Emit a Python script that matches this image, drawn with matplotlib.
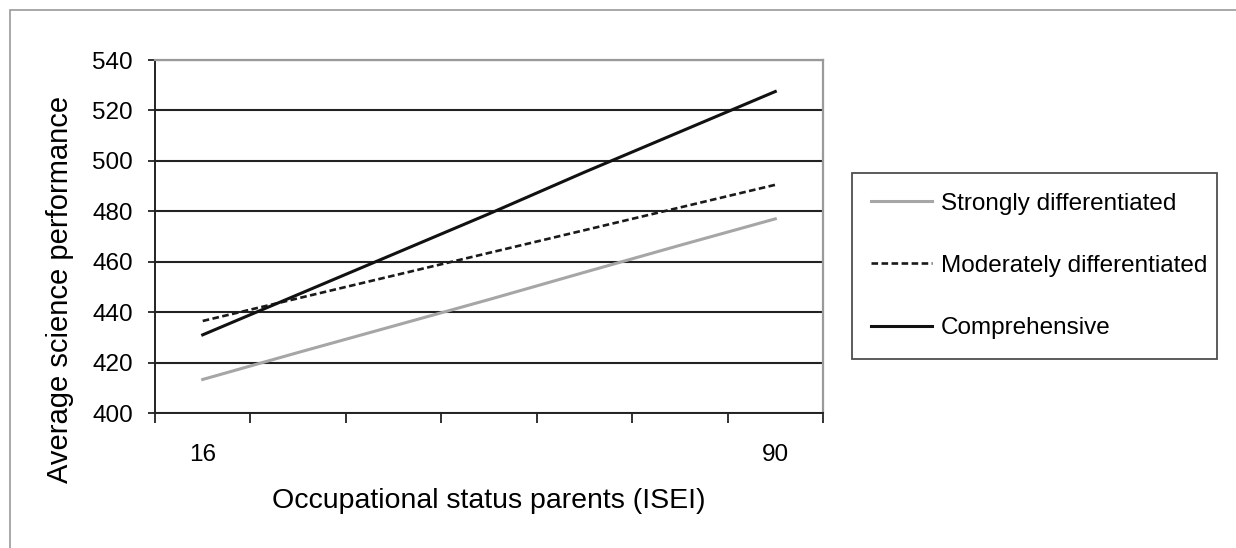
import matplotlib
matplotlib.use('Agg')
import matplotlib.pyplot as plt
from matplotlib.patches import Rectangle


CATEGORIES = ['16', '', '', '', '', '', '90']
STRONGLY = [413.3, 424, 434.5, 445, 455.8, 466.5, 477]
MODERATELY = [436.5, 445.5, 454.5, 463.5, 472.5, 481.5, 490.5]
COMPREHENSIVE = [431, 447, 463, 479, 495.5, 511.5, 527.5]
Y_TICKS = [400, 420, 440, 460, 480, 500, 520, 540]

plt.rcParams['font.family'] = ['Liberation Sans', 'DejaVu Sans']

fig = plt.figure(figsize=(12.36, 5.48), dpi=100)
fig.patches.append(Rectangle((10 / 1236, -0.1), 1.2, 1 - 10 / 548 + 0.1,
                             transform=fig.transFigure, fill=False,
                             edgecolor='#9a9a9a', linewidth=1.2))

ax = fig.add_axes([155 / 1236, 1 - 413 / 548, 668 / 1236, 353 / 548])
x = list(range(len(CATEGORIES)))

ax.plot(x, STRONGLY, color='#a6a6a6', linewidth=2.2, label='Strongly differentiated')
ax.plot(x, MODERATELY, color='#1a1a1a', linewidth=1.9, linestyle=(0, (2.5, 1.3)),
        label='Moderately differentiated')
ax.plot(x, COMPREHENSIVE, color='#111111', linewidth=2.2, label='Comprehensive')

ax.set_ylim(400, 540)
ax.set_yticks(Y_TICKS)
ax.set_xlim(-0.5, len(CATEGORIES) - 0.5)
ax.set_xticks([i - 0.5 for i in range(len(CATEGORIES) + 1)])
ax.set_xticklabels([])
ax.set_xticks(x, minor=True)
ax.set_xticklabels(CATEGORIES, minor=True)
ax.tick_params(axis='x', which='minor', length=0, pad=22, labelsize=17.5)
ax.tick_params(axis='x', which='major', length=7, width=1.3, direction='out', color='#222222')
ax.tick_params(axis='y', length=5, width=1.3, direction='out', labelsize=17.5, pad=11,
               color='#222222')

ax.yaxis.grid(True, color='#222222', linewidth=1.5)
ax.set_axisbelow(True)
for side in ['top', 'right']:
    ax.spines[side].set_color('#9a9a9a')
    ax.spines[side].set_linewidth(1.6)
for side in ['left', 'bottom']:
    ax.spines[side].set_color('#222222')
    ax.spines[side].set_linewidth(1.4)

# excel centres the axis titles on the chart area, not the plot area
ax.set_ylabel('Average science performance', fontsize=21)
ax.yaxis.set_label_coords((74 - 155) / 668, (413 - 289) / 353)
ax.set_xlabel('Occupational status parents (ISEI)', fontsize=20.5, labelpad=16)

leg = ax.legend(loc='center left', bbox_to_anchor=(852 / 1236, 1 - 359 / 548, 365 / 1236, 186 / 548),
                bbox_transform=fig.transFigure, mode='expand', fontsize=17.5,
                frameon=True, fancybox=False, handlelength=2.5, handletextpad=0.35,
                labelspacing=1.65, borderpad=0.8, borderaxespad=0)
leg.get_frame().set_edgecolor('#222222')
leg.get_frame().set_linewidth(1.3)

fig.savefig('out.png', dpi=100)
